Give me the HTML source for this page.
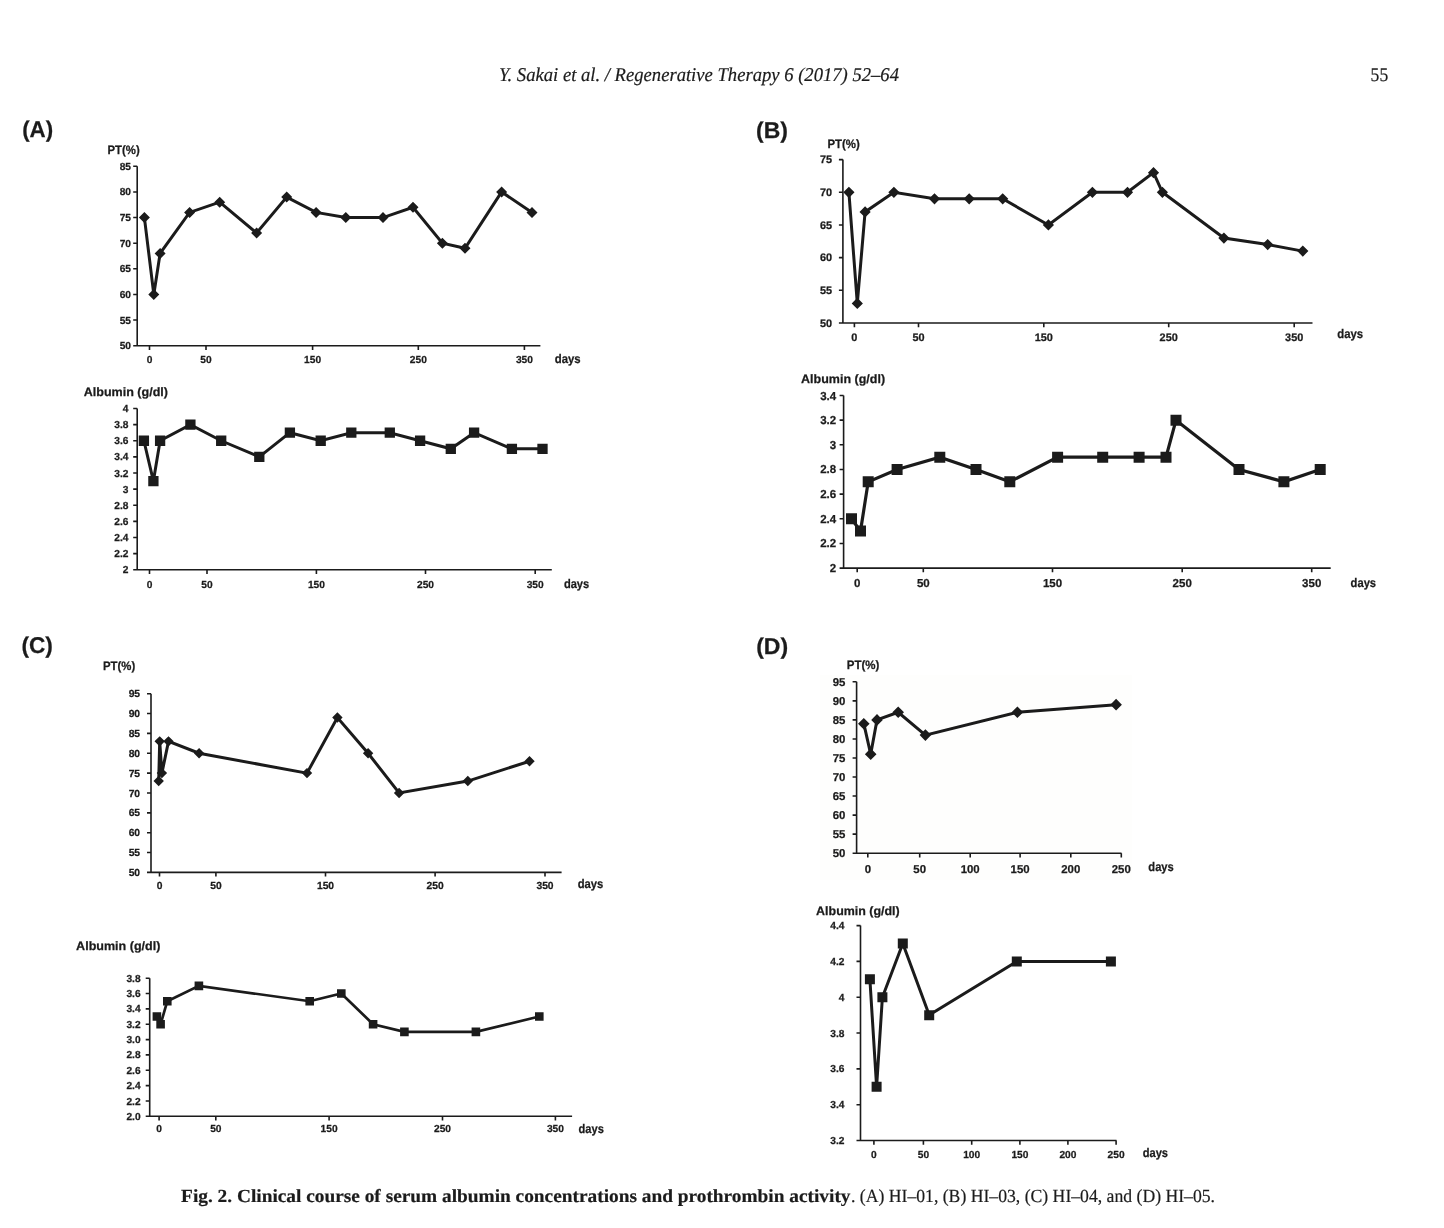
<!DOCTYPE html>
<html><head><meta charset="utf-8"><title>Fig. 2</title>
<style>
html,body{margin:0;padding:0;background:#fff;}
body{width:1444px;height:1228px;overflow:hidden;}
svg{display:block;will-change:transform;text-rendering:geometricPrecision;}
text{font-family:"Liberation Sans",sans-serif;fill:#1b1b1b;}
.lb text{stroke:#1b1b1b;stroke-width:0.25;}
.sr text{stroke:#1b1b1b;stroke-width:0.2;}
.ax{fill:none;stroke:#1b1b1b;stroke-width:1.6;}
.ln{fill:none;stroke:#1b1b1b;stroke-width:3.0;stroke-linejoin:miter;}
.mk{fill:#1b1b1b;}
</style></head>
<body>
<svg width="1444" height="1228" viewBox="0 0 1444 1228">
<rect x="820" y="675" width="312" height="205" fill="#fefefd"/>
<path d="M137.2 166.3V345.7H540.4M133.2 345.7H137.2M133.2 320.07H137.2M133.2 294.44H137.2M133.2 268.81H137.2M133.2 243.19H137.2M133.2 217.56H137.2M133.2 191.93H137.2M133.2 166.3H137.2M149.5 345.7v4.2M206 345.7v4.2M312.6 345.7v4.2M418.3 345.7v4.2M524.4 345.7v4.2" class="ax"/>
<g class="lb">
<text x="131" y="349.26" font-size="10.2" text-anchor="end" font-weight="bold">50</text>
<text x="131" y="323.63" font-size="10.2" text-anchor="end" font-weight="bold">55</text>
<text x="131" y="298" font-size="10.2" text-anchor="end" font-weight="bold">60</text>
<text x="131" y="272.37" font-size="10.2" text-anchor="end" font-weight="bold">65</text>
<text x="131" y="246.75" font-size="10.2" text-anchor="end" font-weight="bold">70</text>
<text x="131" y="221.12" font-size="10.2" text-anchor="end" font-weight="bold">75</text>
<text x="131" y="195.49" font-size="10.2" text-anchor="end" font-weight="bold">80</text>
<text x="131" y="169.86" font-size="10.2" text-anchor="end" font-weight="bold">85</text>
<text x="149.5" y="363.06" font-size="10.2" text-anchor="middle" font-weight="bold">0</text>
<text x="206" y="363.06" font-size="10.2" text-anchor="middle" font-weight="bold">50</text>
<text x="312.6" y="363.06" font-size="10.2" text-anchor="middle" font-weight="bold">150</text>
<text x="418.3" y="363.06" font-size="10.2" text-anchor="middle" font-weight="bold">250</text>
<text x="524.4" y="363.06" font-size="10.2" text-anchor="middle" font-weight="bold">350</text>
<text x="554.8" y="362.8" font-size="12.5" font-weight="bold" textLength="25.9" lengthAdjust="spacingAndGlyphs">days</text>
<text x="107.5" y="154.3" font-size="12.2" font-weight="bold" textLength="32.2" lengthAdjust="spacingAndGlyphs">PT(%)</text>
</g>
<polyline class="ln" points="144.4,217.56 153.8,294.44 160.1,253.44 189.6,212.43 219.7,202.18 256.6,232.93 286.7,197.05 316.1,212.43 345.8,217.56 383,217.56 413,207.31 442.4,243.19 465,248.31 501.6,191.93 532,212.43"/>
<path class="mk" d="M144.4 212.06l5.5 5.5l-5.5 5.5l-5.5 -5.5zM153.8 288.94l5.5 5.5l-5.5 5.5l-5.5 -5.5zM160.1 247.94l5.5 5.5l-5.5 5.5l-5.5 -5.5zM189.6 206.93l5.5 5.5l-5.5 5.5l-5.5 -5.5zM219.7 196.68l5.5 5.5l-5.5 5.5l-5.5 -5.5zM256.6 227.43l5.5 5.5l-5.5 5.5l-5.5 -5.5zM286.7 191.55l5.5 5.5l-5.5 5.5l-5.5 -5.5zM316.1 206.93l5.5 5.5l-5.5 5.5l-5.5 -5.5zM345.8 212.06l5.5 5.5l-5.5 5.5l-5.5 -5.5zM383 212.06l5.5 5.5l-5.5 5.5l-5.5 -5.5zM413 201.81l5.5 5.5l-5.5 5.5l-5.5 -5.5zM442.4 237.69l5.5 5.5l-5.5 5.5l-5.5 -5.5zM465 242.81l5.5 5.5l-5.5 5.5l-5.5 -5.5zM501.6 186.43l5.5 5.5l-5.5 5.5l-5.5 -5.5zM532 206.93l5.5 5.5l-5.5 5.5l-5.5 -5.5z"/>
<path d="M137.2 408.5V569.8H551.8M133.2 569.8H137.2M133.2 553.67H137.2M133.2 537.54H137.2M133.2 521.41H137.2M133.2 505.28H137.2M133.2 489.15H137.2M133.2 473.02H137.2M133.2 456.89H137.2M133.2 440.76H137.2M133.2 424.63H137.2M133.2 408.5H137.2M149.5 569.8v4.2M207 569.8v4.2M316.4 569.8v4.2M425.5 569.8v4.2M535.2 569.8v4.2" class="ax"/>
<g class="lb">
<text x="128.4" y="573.36" font-size="10.2" text-anchor="end" font-weight="bold">2</text>
<text x="128.4" y="557.23" font-size="10.2" text-anchor="end" font-weight="bold">2.2</text>
<text x="128.4" y="541.1" font-size="10.2" text-anchor="end" font-weight="bold">2.4</text>
<text x="128.4" y="524.97" font-size="10.2" text-anchor="end" font-weight="bold">2.6</text>
<text x="128.4" y="508.84" font-size="10.2" text-anchor="end" font-weight="bold">2.8</text>
<text x="128.4" y="492.71" font-size="10.2" text-anchor="end" font-weight="bold">3</text>
<text x="128.4" y="476.58" font-size="10.2" text-anchor="end" font-weight="bold">3.2</text>
<text x="128.4" y="460.45" font-size="10.2" text-anchor="end" font-weight="bold">3.4</text>
<text x="128.4" y="444.32" font-size="10.2" text-anchor="end" font-weight="bold">3.6</text>
<text x="128.4" y="428.19" font-size="10.2" text-anchor="end" font-weight="bold">3.8</text>
<text x="128.4" y="412.06" font-size="10.2" text-anchor="end" font-weight="bold">4</text>
<text x="149.5" y="587.96" font-size="10.2" text-anchor="middle" font-weight="bold">0</text>
<text x="207" y="587.96" font-size="10.2" text-anchor="middle" font-weight="bold">50</text>
<text x="316.4" y="587.96" font-size="10.2" text-anchor="middle" font-weight="bold">150</text>
<text x="425.5" y="587.96" font-size="10.2" text-anchor="middle" font-weight="bold">250</text>
<text x="535.2" y="587.96" font-size="10.2" text-anchor="middle" font-weight="bold">350</text>
<text x="563.9" y="587.6" font-size="12.5" font-weight="bold" textLength="25.3" lengthAdjust="spacingAndGlyphs">days</text>
<text x="83.7" y="396.1" font-size="12.2" font-weight="bold" textLength="84.3" lengthAdjust="spacingAndGlyphs">Albumin (g/dl)</text>
</g>
<polyline class="ln" points="143.9,440.76 153.4,481.08 160.1,440.76 190.4,424.63 221.2,440.76 259.3,456.89 289.9,432.69 320.7,440.76 351.3,432.69 389.8,432.69 420.1,440.76 450.8,448.82 474.1,432.69 511.9,448.82 542.5,448.82"/>
<path class="mk" d="M138.75 435.61h10.3v10.3h-10.3zM148.25 475.94h10.3v10.3h-10.3zM154.95 435.61h10.3v10.3h-10.3zM185.25 419.48h10.3v10.3h-10.3zM216.05 435.61h10.3v10.3h-10.3zM254.15 451.74h10.3v10.3h-10.3zM284.75 427.54h10.3v10.3h-10.3zM315.55 435.61h10.3v10.3h-10.3zM346.15 427.54h10.3v10.3h-10.3zM384.65 427.54h10.3v10.3h-10.3zM414.95 435.61h10.3v10.3h-10.3zM445.65 443.68h10.3v10.3h-10.3zM468.95 427.54h10.3v10.3h-10.3zM506.75 443.68h10.3v10.3h-10.3zM537.35 443.68h10.3v10.3h-10.3z"/>
<path d="M842.9 159.6V323H1312.5M838.9 323H842.9M838.9 290.32H842.9M838.9 257.64H842.9M838.9 224.96H842.9M838.9 192.28H842.9M838.9 159.6H842.9M854.4 323v4.2M918.5 323v4.2M1043.8 323v4.2M1168.7 323v4.2M1294.2 323v4.2" class="ax"/>
<g class="lb">
<text x="832.2" y="326.8" font-size="10.9" text-anchor="end" font-weight="bold">50</text>
<text x="832.2" y="294.12" font-size="10.9" text-anchor="end" font-weight="bold">55</text>
<text x="832.2" y="261.44" font-size="10.9" text-anchor="end" font-weight="bold">60</text>
<text x="832.2" y="228.76" font-size="10.9" text-anchor="end" font-weight="bold">65</text>
<text x="832.2" y="196.08" font-size="10.9" text-anchor="end" font-weight="bold">70</text>
<text x="832.2" y="163.4" font-size="10.9" text-anchor="end" font-weight="bold">75</text>
<text x="854.4" y="340.9" font-size="10.9" text-anchor="middle" font-weight="bold">0</text>
<text x="918.5" y="340.9" font-size="10.9" text-anchor="middle" font-weight="bold">50</text>
<text x="1043.8" y="340.9" font-size="10.9" text-anchor="middle" font-weight="bold">150</text>
<text x="1168.7" y="340.9" font-size="10.9" text-anchor="middle" font-weight="bold">250</text>
<text x="1294.2" y="340.9" font-size="10.9" text-anchor="middle" font-weight="bold">350</text>
<text x="1337.2" y="338" font-size="12.5" font-weight="bold" textLength="25.9" lengthAdjust="spacingAndGlyphs">days</text>
<text x="827.4" y="148.1" font-size="12.2" font-weight="bold" textLength="32.4" lengthAdjust="spacingAndGlyphs">PT(%)</text>
</g>
<polyline class="ln" points="848.9,192.28 857.3,303.39 865.1,211.89 893.9,192.28 934.5,198.82 969.2,198.82 1002.7,198.82 1048.4,224.96 1092.4,192.28 1127.5,192.28 1153.5,172.67 1162.4,192.28 1223.9,238.03 1267.7,244.57 1302.8,251.1"/>
<path class="mk" d="M848.9 186.68l5.6 5.6l-5.6 5.6l-5.6 -5.6zM857.3 297.79l5.6 5.6l-5.6 5.6l-5.6 -5.6zM865.1 206.29l5.6 5.6l-5.6 5.6l-5.6 -5.6zM893.9 186.68l5.6 5.6l-5.6 5.6l-5.6 -5.6zM934.5 193.22l5.6 5.6l-5.6 5.6l-5.6 -5.6zM969.2 193.22l5.6 5.6l-5.6 5.6l-5.6 -5.6zM1002.7 193.22l5.6 5.6l-5.6 5.6l-5.6 -5.6zM1048.4 219.36l5.6 5.6l-5.6 5.6l-5.6 -5.6zM1092.4 186.68l5.6 5.6l-5.6 5.6l-5.6 -5.6zM1127.5 186.68l5.6 5.6l-5.6 5.6l-5.6 -5.6zM1153.5 167.07l5.6 5.6l-5.6 5.6l-5.6 -5.6zM1162.4 186.68l5.6 5.6l-5.6 5.6l-5.6 -5.6zM1223.9 232.43l5.6 5.6l-5.6 5.6l-5.6 -5.6zM1267.7 238.97l5.6 5.6l-5.6 5.6l-5.6 -5.6zM1302.8 245.5l5.6 5.6l-5.6 5.6l-5.6 -5.6z"/>
<path d="M843.6 395.5V568.1H1330.7M839.6 568.1H843.6M839.6 543.44H843.6M839.6 518.79H843.6M839.6 494.13H843.6M839.6 469.47H843.6M839.6 444.81H843.6M839.6 420.16H843.6M839.6 395.5H843.6M857.2 568.1v4.2M923.3 568.1v4.2M1052.5 568.1v4.2M1182.2 568.1v4.2M1311.7 568.1v4.2" class="ax"/>
<g class="lb">
<text x="836.2" y="572.11" font-size="11.5" text-anchor="end" font-weight="bold">2</text>
<text x="836.2" y="547.46" font-size="11.5" text-anchor="end" font-weight="bold">2.2</text>
<text x="836.2" y="522.8" font-size="11.5" text-anchor="end" font-weight="bold">2.4</text>
<text x="836.2" y="498.14" font-size="11.5" text-anchor="end" font-weight="bold">2.6</text>
<text x="836.2" y="473.48" font-size="11.5" text-anchor="end" font-weight="bold">2.8</text>
<text x="836.2" y="448.83" font-size="11.5" text-anchor="end" font-weight="bold">3</text>
<text x="836.2" y="424.17" font-size="11.5" text-anchor="end" font-weight="bold">3.2</text>
<text x="836.2" y="399.51" font-size="11.5" text-anchor="end" font-weight="bold">3.4</text>
<text x="857.2" y="587.01" font-size="11.5" text-anchor="middle" font-weight="bold">0</text>
<text x="923.3" y="587.01" font-size="11.5" text-anchor="middle" font-weight="bold">50</text>
<text x="1052.5" y="587.01" font-size="11.5" text-anchor="middle" font-weight="bold">150</text>
<text x="1182.2" y="587.01" font-size="11.5" text-anchor="middle" font-weight="bold">250</text>
<text x="1311.7" y="587.01" font-size="11.5" text-anchor="middle" font-weight="bold">350</text>
<text x="1350.6" y="586.8" font-size="12.5" font-weight="bold" textLength="25.5" lengthAdjust="spacingAndGlyphs">days</text>
<text x="801.1" y="382.7" font-size="12.2" font-weight="bold" textLength="84" lengthAdjust="spacingAndGlyphs">Albumin (g/dl)</text>
</g>
<polyline class="ln" style="stroke-width:3.2" points="851.5,518.79 860.5,531.11 868.2,481.8 897.1,469.47 939.8,457.14 976,469.47 1009.8,481.8 1057.6,457.14 1102.7,457.14 1139.1,457.14 1166,457.14 1176,420.16 1239,469.47 1283.9,481.8 1320.2,469.47"/>
<path class="mk" d="M846 513.29h11v11h-11zM855 525.61h11v11h-11zM862.7 476.3h11v11h-11zM891.6 463.97h11v11h-11zM934.3 451.64h11v11h-11zM970.5 463.97h11v11h-11zM1004.3 476.3h11v11h-11zM1052.1 451.64h11v11h-11zM1097.2 451.64h11v11h-11zM1133.6 451.64h11v11h-11zM1160.5 451.64h11v11h-11zM1170.5 414.66h11v11h-11zM1233.5 463.97h11v11h-11zM1278.4 476.3h11v11h-11zM1314.7 463.97h11v11h-11z"/>
<path d="M151 693.7V872.4H561.6M147 872.4H151M147 852.54H151M147 832.69H151M147 812.83H151M147 792.98H151M147 773.12H151M147 753.27H151M147 733.41H151M147 713.56H151M147 693.7H151M159.5 872.4v4.2M215.9 872.4v4.2M325.5 872.4v4.2M435.1 872.4v4.2M545 872.4v4.2" class="ax"/>
<g class="lb">
<text x="140.1" y="875.99" font-size="10.3" text-anchor="end" font-weight="bold">50</text>
<text x="140.1" y="856.14" font-size="10.3" text-anchor="end" font-weight="bold">55</text>
<text x="140.1" y="836.28" font-size="10.3" text-anchor="end" font-weight="bold">60</text>
<text x="140.1" y="816.43" font-size="10.3" text-anchor="end" font-weight="bold">65</text>
<text x="140.1" y="796.57" font-size="10.3" text-anchor="end" font-weight="bold">70</text>
<text x="140.1" y="776.72" font-size="10.3" text-anchor="end" font-weight="bold">75</text>
<text x="140.1" y="756.86" font-size="10.3" text-anchor="end" font-weight="bold">80</text>
<text x="140.1" y="737.01" font-size="10.3" text-anchor="end" font-weight="bold">85</text>
<text x="140.1" y="717.15" font-size="10.3" text-anchor="end" font-weight="bold">90</text>
<text x="140.1" y="697.29" font-size="10.3" text-anchor="end" font-weight="bold">95</text>
<text x="159.5" y="888.99" font-size="10.3" text-anchor="middle" font-weight="bold">0</text>
<text x="215.9" y="888.99" font-size="10.3" text-anchor="middle" font-weight="bold">50</text>
<text x="325.5" y="888.99" font-size="10.3" text-anchor="middle" font-weight="bold">150</text>
<text x="435.1" y="888.99" font-size="10.3" text-anchor="middle" font-weight="bold">250</text>
<text x="545" y="888.99" font-size="10.3" text-anchor="middle" font-weight="bold">350</text>
<text x="577.7" y="888" font-size="12.5" font-weight="bold" textLength="25.6" lengthAdjust="spacingAndGlyphs">days</text>
<text x="103" y="669.8" font-size="12.2" font-weight="bold" textLength="32.2" lengthAdjust="spacingAndGlyphs">PT(%)</text>
</g>
<polyline class="ln" points="158.7,781.06 159.7,741.35 161.9,773.12 168.5,741.35 199.1,753.27 307,773.12 337.4,717.53 368.1,753.27 399.1,792.98 467.8,781.06 529.5,761.21"/>
<path class="mk" d="M158.7 775.86l5.2 5.2l-5.2 5.2l-5.2 -5.2zM159.7 736.15l5.2 5.2l-5.2 5.2l-5.2 -5.2zM161.9 767.92l5.2 5.2l-5.2 5.2l-5.2 -5.2zM168.5 736.15l5.2 5.2l-5.2 5.2l-5.2 -5.2zM199.1 748.07l5.2 5.2l-5.2 5.2l-5.2 -5.2zM307 767.92l5.2 5.2l-5.2 5.2l-5.2 -5.2zM337.4 712.33l5.2 5.2l-5.2 5.2l-5.2 -5.2zM368.1 748.07l5.2 5.2l-5.2 5.2l-5.2 -5.2zM399.1 787.78l5.2 5.2l-5.2 5.2l-5.2 -5.2zM467.8 775.86l5.2 5.2l-5.2 5.2l-5.2 -5.2zM529.5 756.01l5.2 5.2l-5.2 5.2l-5.2 -5.2z"/>
<path d="M149.7 978.2V1116.3H572.1M145.7 1116.3H149.7M145.7 1100.96H149.7M145.7 1085.61H149.7M145.7 1070.27H149.7M145.7 1054.92H149.7M145.7 1039.58H149.7M145.7 1024.23H149.7M145.7 1008.89H149.7M145.7 993.54H149.7M145.7 978.2H149.7M159.1 1116.3v4.2M215.8 1116.3v4.2M329.1 1116.3v4.2M442.5 1116.3v4.2M555.4 1116.3v4.2" class="ax"/>
<g class="lb">
<text x="140.6" y="1119.86" font-size="10.2" text-anchor="end" font-weight="bold">2.0</text>
<text x="140.6" y="1104.52" font-size="10.2" text-anchor="end" font-weight="bold">2.2</text>
<text x="140.6" y="1089.17" font-size="10.2" text-anchor="end" font-weight="bold">2.4</text>
<text x="140.6" y="1073.83" font-size="10.2" text-anchor="end" font-weight="bold">2.6</text>
<text x="140.6" y="1058.48" font-size="10.2" text-anchor="end" font-weight="bold">2.8</text>
<text x="140.6" y="1043.14" font-size="10.2" text-anchor="end" font-weight="bold">3.0</text>
<text x="140.6" y="1027.79" font-size="10.2" text-anchor="end" font-weight="bold">3.2</text>
<text x="140.6" y="1012.45" font-size="10.2" text-anchor="end" font-weight="bold">3.4</text>
<text x="140.6" y="997.1" font-size="10.2" text-anchor="end" font-weight="bold">3.6</text>
<text x="140.6" y="981.76" font-size="10.2" text-anchor="end" font-weight="bold">3.8</text>
<text x="159.1" y="1131.76" font-size="10.2" text-anchor="middle" font-weight="bold">0</text>
<text x="215.8" y="1131.76" font-size="10.2" text-anchor="middle" font-weight="bold">50</text>
<text x="329.1" y="1131.76" font-size="10.2" text-anchor="middle" font-weight="bold">150</text>
<text x="442.5" y="1131.76" font-size="10.2" text-anchor="middle" font-weight="bold">250</text>
<text x="555.4" y="1131.76" font-size="10.2" text-anchor="middle" font-weight="bold">350</text>
<text x="578.6" y="1132.7" font-size="12.5" font-weight="bold" textLength="25.3" lengthAdjust="spacingAndGlyphs">days</text>
<text x="76.1" y="950.3" font-size="12.2" font-weight="bold" textLength="84.3" lengthAdjust="spacingAndGlyphs">Albumin (g/dl)</text>
</g>
<polyline class="ln" style="stroke-width:2.7" points="156.9,1016.56 160.6,1024.23 167.3,1001.22 198.9,985.87 309.7,1001.22 341.3,993.54 373.1,1024.23 404.4,1031.91 475.9,1031.91 539.3,1016.56"/>
<path class="mk" d="M152.6 1012.26h8.6v8.6h-8.6zM156.3 1019.93h8.6v8.6h-8.6zM163 996.92h8.6v8.6h-8.6zM194.6 981.57h8.6v8.6h-8.6zM305.4 996.92h8.6v8.6h-8.6zM337 989.24h8.6v8.6h-8.6zM368.8 1019.93h8.6v8.6h-8.6zM400.1 1027.61h8.6v8.6h-8.6zM471.6 1027.61h8.6v8.6h-8.6zM535 1012.26h8.6v8.6h-8.6z"/>
<path d="M856.6 681.8V853.2H1121.5M852.6 853.2H856.6M852.6 834.16H856.6M852.6 815.11H856.6M852.6 796.07H856.6M852.6 777.02H856.6M852.6 757.98H856.6M852.6 738.93H856.6M852.6 719.89H856.6M852.6 700.84H856.6M852.6 681.8H856.6M867.8 853.2v4.2M919.7 853.2v4.2M970.2 853.2v4.2M1020.1 853.2v4.2M1070.8 853.2v4.2M1121.3 853.2v4.2" class="ax"/>
<g class="lb">
<text x="845.4" y="857.18" font-size="11.4" text-anchor="end" font-weight="bold">50</text>
<text x="845.4" y="838.13" font-size="11.4" text-anchor="end" font-weight="bold">55</text>
<text x="845.4" y="819.09" font-size="11.4" text-anchor="end" font-weight="bold">60</text>
<text x="845.4" y="800.05" font-size="11.4" text-anchor="end" font-weight="bold">65</text>
<text x="845.4" y="781" font-size="11.4" text-anchor="end" font-weight="bold">70</text>
<text x="845.4" y="761.96" font-size="11.4" text-anchor="end" font-weight="bold">75</text>
<text x="845.4" y="742.91" font-size="11.4" text-anchor="end" font-weight="bold">80</text>
<text x="845.4" y="723.87" font-size="11.4" text-anchor="end" font-weight="bold">85</text>
<text x="845.4" y="704.82" font-size="11.4" text-anchor="end" font-weight="bold">90</text>
<text x="845.4" y="685.78" font-size="11.4" text-anchor="end" font-weight="bold">95</text>
<text x="867.8" y="872.98" font-size="11.4" text-anchor="middle" font-weight="bold">0</text>
<text x="919.7" y="872.98" font-size="11.4" text-anchor="middle" font-weight="bold">50</text>
<text x="970.2" y="872.98" font-size="11.4" text-anchor="middle" font-weight="bold">100</text>
<text x="1020.1" y="872.98" font-size="11.4" text-anchor="middle" font-weight="bold">150</text>
<text x="1070.8" y="872.98" font-size="11.4" text-anchor="middle" font-weight="bold">200</text>
<text x="1121.3" y="872.98" font-size="11.4" text-anchor="middle" font-weight="bold">250</text>
<text x="1148.3" y="871.2" font-size="12.5" font-weight="bold" textLength="25.5" lengthAdjust="spacingAndGlyphs">days</text>
<text x="846.8" y="669.1" font-size="12.2" font-weight="bold" textLength="32.6" lengthAdjust="spacingAndGlyphs">PT(%)</text>
</g>
<polyline class="ln" points="863.8,723.7 870.7,754.17 877,719.89 898.2,712.27 925.4,735.12 1017.4,712.27 1116.1,704.65"/>
<path class="mk" d="M863.8 717.9l5.8 5.8l-5.8 5.8l-5.8 -5.8zM870.7 748.37l5.8 5.8l-5.8 5.8l-5.8 -5.8zM877 714.09l5.8 5.8l-5.8 5.8l-5.8 -5.8zM898.2 706.47l5.8 5.8l-5.8 5.8l-5.8 -5.8zM925.4 729.32l5.8 5.8l-5.8 5.8l-5.8 -5.8zM1017.4 706.47l5.8 5.8l-5.8 5.8l-5.8 -5.8zM1116.1 698.85l5.8 5.8l-5.8 5.8l-5.8 -5.8z"/>
<path d="M860.5 925.6V1140.5H1116.5M856.5 1140.5H860.5M856.5 1104.68H860.5M856.5 1068.87H860.5M856.5 1033.05H860.5M856.5 997.23H860.5M856.5 961.42H860.5M856.5 925.6H860.5M873.9 1140.5v4.2M923.4 1140.5v4.2M971.7 1140.5v4.2M1019.9 1140.5v4.2M1067.9 1140.5v4.2M1116.1 1140.5v4.2" class="ax"/>
<g class="lb">
<text x="844.4" y="1144.06" font-size="10.2" text-anchor="end" font-weight="bold">3.2</text>
<text x="844.4" y="1108.24" font-size="10.2" text-anchor="end" font-weight="bold">3.4</text>
<text x="844.4" y="1072.43" font-size="10.2" text-anchor="end" font-weight="bold">3.6</text>
<text x="844.4" y="1036.61" font-size="10.2" text-anchor="end" font-weight="bold">3.8</text>
<text x="844.4" y="1000.79" font-size="10.2" text-anchor="end" font-weight="bold">4</text>
<text x="844.4" y="964.98" font-size="10.2" text-anchor="end" font-weight="bold">4.2</text>
<text x="844.4" y="929.16" font-size="10.2" text-anchor="end" font-weight="bold">4.4</text>
<text x="873.9" y="1158.16" font-size="10.2" text-anchor="middle" font-weight="bold">0</text>
<text x="923.4" y="1158.16" font-size="10.2" text-anchor="middle" font-weight="bold">50</text>
<text x="971.7" y="1158.16" font-size="10.2" text-anchor="middle" font-weight="bold">100</text>
<text x="1019.9" y="1158.16" font-size="10.2" text-anchor="middle" font-weight="bold">150</text>
<text x="1067.9" y="1158.16" font-size="10.2" text-anchor="middle" font-weight="bold">200</text>
<text x="1116.1" y="1158.16" font-size="10.2" text-anchor="middle" font-weight="bold">250</text>
<text x="1142.7" y="1156.9" font-size="12.5" font-weight="bold" textLength="25.3" lengthAdjust="spacingAndGlyphs">days</text>
<text x="816.1" y="914.9" font-size="12.2" font-weight="bold" textLength="83.6" lengthAdjust="spacingAndGlyphs">Albumin (g/dl)</text>
</g>
<polyline class="ln" points="869.9,979.33 876.6,1086.78 882.4,997.23 902.8,943.51 929.2,1015.14 1016.8,961.42 1110.9,961.42"/>
<path class="mk" d="M864.9 974.33h10v10h-10zM871.6 1081.78h10v10h-10zM877.4 992.23h10v10h-10zM897.8 938.51h10v10h-10zM924.2 1010.14h10v10h-10zM1011.8 956.42h10v10h-10zM1105.9 956.42h10v10h-10z"/>
<g class="lb">
<text x="22.2" y="137" font-size="22.8" font-weight="bold" textLength="31" lengthAdjust="spacingAndGlyphs">(A)</text>
<text x="756" y="138" font-size="22.8" font-weight="bold" textLength="31.9" lengthAdjust="spacingAndGlyphs">(B)</text>
<text x="21.4" y="653.4" font-size="22.8" font-weight="bold" textLength="31.5" lengthAdjust="spacingAndGlyphs">(C)</text>
<text x="756.2" y="654.3" font-size="22.8" font-weight="bold" textLength="32" lengthAdjust="spacingAndGlyphs">(D)</text>
</g>
<g class="sr">
<text x="498.9" y="80.9" font-size="19.5" style="font-family:&quot;Liberation Serif&quot;,serif" font-style="italic" textLength="400.1" lengthAdjust="spacingAndGlyphs">Y. Sakai <tspan>et al.</tspan> / Regenerative Therapy 6 (2017) 52&#8211;64</text>
<text x="1370.6" y="81.1" font-size="19.5" style="font-family:&quot;Liberation Serif&quot;,serif" textLength="17.6" lengthAdjust="spacingAndGlyphs">55</text>
<text x="181.1" y="1201.9" font-size="18.5" font-weight="bold" style="font-family:&quot;Liberation Serif&quot;,serif" textLength="669.4" lengthAdjust="spacingAndGlyphs">Fig. 2. Clinical course of serum albumin concentrations and prothrombin activity</text>
<text x="851" y="1201.9" font-size="18.5" style="font-family:&quot;Liberation Serif&quot;,serif" textLength="364" lengthAdjust="spacingAndGlyphs">. (A) HI&#8211;01, (B) HI&#8211;03, (C) HI&#8211;04, and (D) HI&#8211;05.</text>
</g>
</svg>
</body></html>
